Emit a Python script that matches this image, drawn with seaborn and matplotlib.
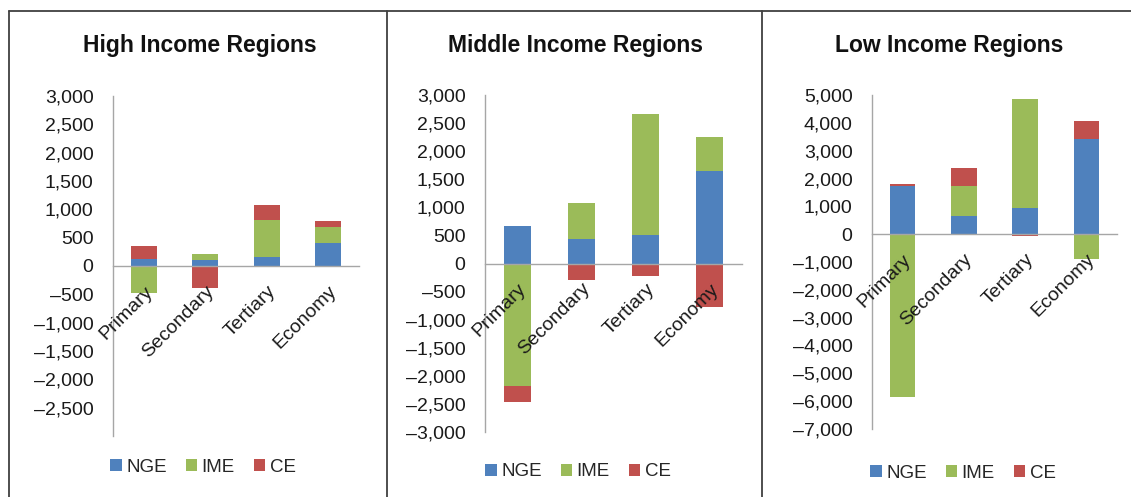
import matplotlib
matplotlib.use("Agg")
import matplotlib.pyplot as plt
from matplotlib.lines import Line2D
from matplotlib.patches import Patch
from matplotlib.ticker import FuncFormatter
import seaborn as sns
import pandas as pd
import numpy as np

categories = ["Primary", "Secondary", "Tertiary", "Economy"]
series_names = ["NGE", "IME", "CE"]

high_nge = [130, 100, 150, 405]
high_ime = [-480, 115, 665, 290]
high_ce = [220, -380, 270, 95]

mid_nge = [660, 430, 515, 1640]
mid_ime = [-2175, 645, 2150, 610]
mid_ce = [-285, -295, -220, -775]

low_nge = [1740, 670, 950, 3405]
low_ime = [-5850, 1055, 3905, -900]
low_ce = [70, 670, -75, 670]

titles = ["High Income Regions", "Middle Income Regions", "Low Income Regions"]
colors = ["#4F81BD", "#9BBB59", "#C0504D"]

sns.set_theme(style="white")
plt.rcParams["font.family"] = ["Liberation Sans", "DejaVu Sans"]

fig = plt.figure(figsize=(11.31, 4.97), dpi=100)

W, H = 1131, 497

def fx(px):
    return px / W

def fy(py):
    return 1 - py / H

panels = [
    dict(data=(high_nge, high_ime, high_ce), rect=(113, 359, 96, 436), ylim=(-3000, 3000),
         ticks=np.arange(-2500, 3001, 500), title_x=200, leg=(203, 467)),
    dict(data=(mid_nge, mid_ime, mid_ce), rect=(485, 742, 95, 432), ylim=(-3000, 3000),
         ticks=np.arange(-3000, 3001, 500), title_x=576, leg=(578, 472)),
    dict(data=(low_nge, low_ime, low_ce), rect=(872, 1117, 95, 429), ylim=(-7000, 5000),
         ticks=np.arange(-7000, 5001, 1000), title_x=949, leg=(963, 473)),
]

fmt = FuncFormatter(lambda v, p: ("\u2013" if v < 0 else "") + f"{abs(int(round(v))):,}")

for i, p in enumerate(panels):
    l, r, t, b = p["rect"]
    ax = fig.add_axes([fx(l), fy(b), fx(r) - fx(l), fy(t) - fy(b)])
    vals = np.array(p["data"], dtype=float)  # shape (3, 4)
    pos = np.where(vals > 0, vals, 0)
    neg = np.where(vals < 0, vals, 0)
    pos_cum = np.cumsum(pos, axis=0)
    neg_cum = np.cumsum(neg, axis=0)
    for k in reversed(range(3)):
        hp = np.where(vals[k] > 0, pos_cum[k], np.nan)
        hn = np.where(vals[k] < 0, neg_cum[k], np.nan)
        dfp = pd.DataFrame({"cat": categories, "v": hp})
        dfn = pd.DataFrame({"cat": categories, "v": hn})
        sns.barplot(data=dfp, x="cat", y="v", order=categories, color=colors[k],
                    saturation=1, width=0.42, ax=ax, errorbar=None, linewidth=0)
        sns.barplot(data=dfn, x="cat", y="v", order=categories, color=colors[k],
                    saturation=1, width=0.42, ax=ax, errorbar=None, linewidth=0)
    ax.set_axisbelow(False)
    ax.set_ylim(*p["ylim"])
    ax.set_xlim(-0.5, 3.5)
    ax.set_yticks(p["ticks"])
    ax.yaxis.set_major_formatter(fmt)
    ax.set_xlabel("")
    ax.set_ylabel("")
    for s in ["top", "right"]:
        ax.spines[s].set_visible(False)
    ax.spines["left"].set_color("#A6A6A6")
    ax.spines["left"].set_linewidth(1.0)
    ax.spines["bottom"].set_position(("data", 0))
    ax.spines["bottom"].set_color("#A6A6A6")
    ax.spines["bottom"].set_linewidth(1.0)
    ax.spines["bottom"].set_zorder(5)
    ax.tick_params(axis="both", length=0)
    ax.tick_params(axis="y", labelsize=14, labelcolor="#1a1a1a", pad=14)
    ax.tick_params(axis="x", labelsize=14, labelcolor="#1a1a1a", pad=12)
    for lab in ax.get_xticklabels():
        lab.set_rotation(45)
        lab.set_ha("right")
        lab.set_va("top")
        lab.set_rotation_mode("anchor")
    ax.xaxis.set_zorder(6)
    ax.patch.set_alpha(0)
    fig.text(fx(p["title_x"]), fy(46), titles[i], ha="center", va="center",
             fontsize=16.5, fontweight="bold", color="#111111")
    handles = [Patch(facecolor=c, edgecolor="none", label=n) for c, n in zip(colors, series_names)]
    fig.legend(handles=handles, loc="center", bbox_to_anchor=(fx(p["leg"][0]), fy(p["leg"][1])),
               ncol=3, frameon=False, fontsize=13.5, handlelength=0.6, handleheight=0.6,
               handletextpad=0.25, columnspacing=1.0, borderaxespad=0)

lc = "#404040"
fig.add_artist(Line2D([fx(9), 1.0], [fy(11), fy(11)], color=lc, lw=1.3, transform=fig.transFigure))
for xp in [9, 387, 762]:
    fig.add_artist(Line2D([fx(xp), fx(xp)], [0, fy(11)], color=lc, lw=1.3, transform=fig.transFigure))

fig.savefig("out.png", dpi=100)
